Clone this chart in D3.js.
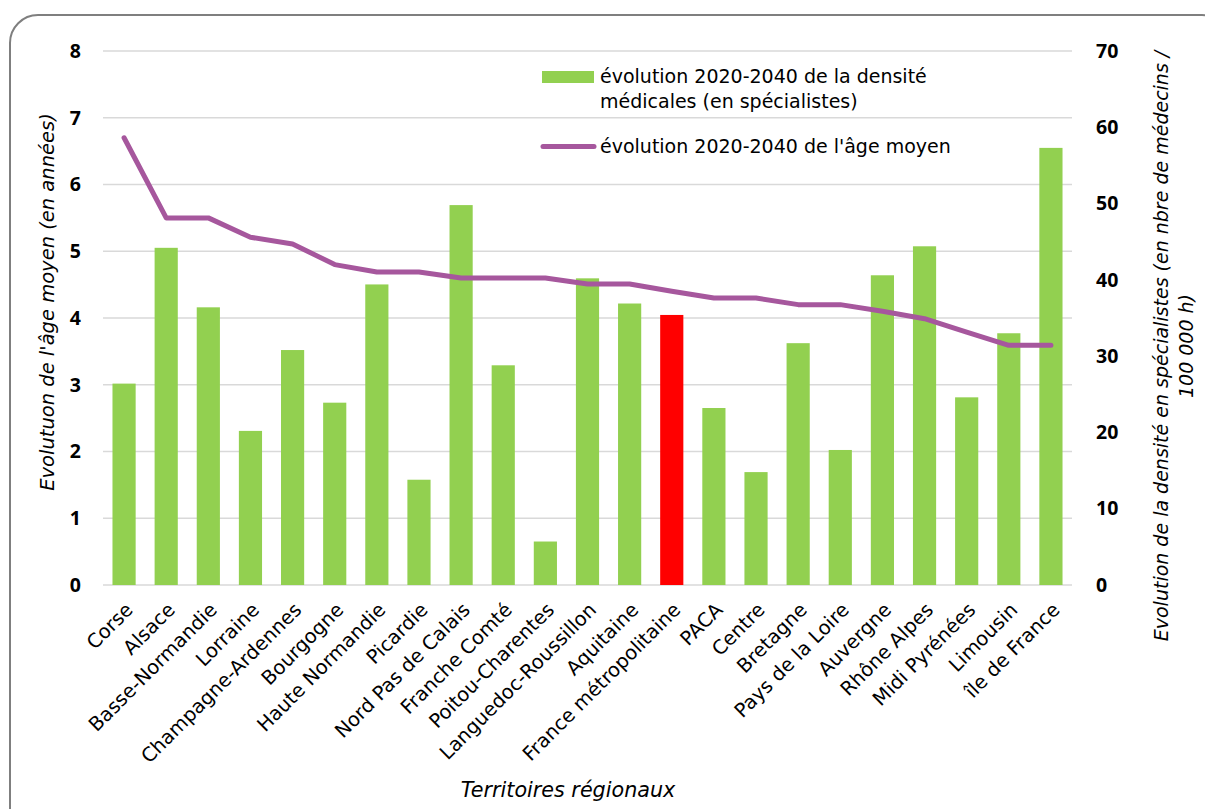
<!DOCTYPE html>
<html>
<head>
<meta charset="utf-8">
<script src="https://cdn.jsdelivr.net/npm/d3@7"></script>
<style>
  html, body { margin: 0; padding: 0; background: #fff; }
  svg { display: block; font-family: "DejaVu Sans", sans-serif; }
</style>
</head>
<body>
<svg id="chart" width="1205" height="809"></svg>
<script>
// Regions, in display order
const regions = [
  "Corse", "Alsace", "Basse-Normandie", "Lorraine", "Champagne-Ardennes",
  "Bourgogne", "Haute Normandie", "Picardie", "Nord Pas de Calais",
  "Franche Comté", "Poitou-Charentes", "Languedoc-Roussillon", "Aquitaine",
  "France métropolitaine", "PACA", "Centre", "Bretagne", "Pays de la Loire",
  "Auvergne", "Rhône Alpes", "Midi Pyrénées", "Limousin", "île de France"
];

// 2020-2040 change in specialist density (doctors / 100 000 inhabitants)
const densite = [
  26.4, 44.2, 36.4, 20.2, 30.8, 23.9, 39.4, 13.8, 49.8, 28.8, 5.7, 40.2,
  36.9, 35.4, 23.2, 14.8, 31.7, 17.7, 40.6, 44.4, 24.6, 33.0, 57.3
];

// 2020-2040 change in mean age (years)
const ageMoyen = [
  6.7, 5.5, 5.5, 5.21, 5.11, 4.8, 4.69, 4.69, 4.6, 4.6, 4.6, 4.51,
  4.51, 4.4, 4.3, 4.3, 4.2, 4.2, 4.1, 3.99, 3.79, 3.59, 3.59
];

const leftTicks = [0, 1, 2, 3, 4, 5, 6, 7, 8];
const rightTicks = [0, 10, 20, 30, 40, 50, 60, 70];
const highlighted = "France métropolitaine";

const svg = d3.select("#chart");

// Rounded frame around the chart
svg.append("rect")
  .attr("x", 10).attr("y", 15)
  .attr("width", 1220).attr("height", 830)
  .attr("rx", 28).attr("ry", 28)
  .attr("fill", "none")
  .attr("stroke", "#7f7f7f")
  .attr("stroke-width", 2);

const plot = { left: 103, right: 1072, top: 51, bottom: 585 };

const x = d3.scaleBand()
  .domain(regions)
  .range([plot.left, plot.right])
  .paddingInner(0.45)
  .paddingOuter(0.225);

const yAge = d3.scaleLinear().domain([0, 8]).range([plot.bottom, plot.top]);
const yDens = d3.scaleLinear().domain([0, 70]).range([plot.bottom, plot.top]);

// Horizontal gridlines
svg.append("g")
  .selectAll("line")
  .data(leftTicks)
  .join("line")
  .attr("x1", plot.left).attr("x2", plot.right)
  .attr("y1", d => yAge(d)).attr("y2", d => yAge(d))
  .attr("stroke", "#d9d9d9")
  .attr("stroke-width", 1.5);

// Left axis (mean age)
const leftAxis = svg.append("g")
  .attr("transform", `translate(${81},0)`)
  .call(d3.axisLeft(yAge).tickValues(leftTicks).tickSize(0).tickPadding(0).tickFormat(d3.format("d")));
leftAxis.select(".domain").remove();
leftAxis.selectAll("text")
  .attr("font-size", 19.5).attr("font-weight", "bold").attr("fill", "#000")
  .attr("font-family", "'Open Sans', sans-serif");

// Right axis (density)
const rightAxis = svg.append("g")
  .attr("transform", `translate(${1096},0)`)
  .call(d3.axisRight(yDens).tickValues(rightTicks).tickSize(0).tickPadding(0).tickFormat(d3.format("d")));
rightAxis.select(".domain").remove();
rightAxis.selectAll("text")
  .attr("font-size", 19.5).attr("font-weight", "bold").attr("fill", "#000")
  .attr("font-family", "'Open Sans', sans-serif");

// Density bars
svg.append("g")
  .selectAll("rect")
  .data(regions.map((r, i) => ({ r, v: densite[i] })))
  .join("rect")
  .attr("x", d => x(d.r))
  .attr("width", x.bandwidth())
  .attr("y", d => yDens(d.v))
  .attr("height", d => yDens(0) - yDens(d.v))
  .attr("fill", d => d.r === highlighted ? "#ff0000" : "#92d050");

// Mean age line
const line = d3.line()
  .x((d, i) => x(regions[i]) + x.bandwidth() / 2)
  .y(d => yAge(d));

svg.append("path")
  .datum(ageMoyen)
  .attr("d", line)
  .attr("fill", "none")
  .attr("stroke", "#a6579d")
  .attr("stroke-width", 5)
  .attr("stroke-linejoin", "round")
  .attr("stroke-linecap", "round");

// Category labels, slanted at 45°
svg.append("g")
  .selectAll("text")
  .data(regions)
  .join("text")
  .attr("transform", d => `translate(${x(d) + x.bandwidth() / 2 + 10},${611}) rotate(-45)`)
  .attr("text-anchor", "end")
  .attr("font-size", 19.5)
  .attr("fill", "#000")
  .text(d => d);

// Axis titles
svg.append("text")
  .attr("transform", `translate(48,${302}) rotate(-90)`)
  .attr("text-anchor", "middle")
  .attr("dominant-baseline", "middle")
  .attr("font-size", 19.5)
  .attr("font-style", "italic")
  .text("Evolutuon de l'âge moyen (en années)");

const rt = svg.append("text")
  .attr("transform", `translate(1168,${346}) rotate(-90)`)
  .attr("text-anchor", "middle")
  .attr("font-size", 19)
  .attr("font-style", "italic");
rt.append("tspan").attr("x", 0).attr("dy", 0).text("Evolution  de la densité en spécialistes (en nbre de médecins /");
rt.append("tspan").attr("x", 0).attr("dy", 25).text("100 000 h)");

svg.append("text")
  .attr("x", 568).attr("y", 797)
  .attr("text-anchor", "middle")
  .attr("font-size", 20.7)
  .attr("font-style", "italic")
  .text("Territoires régionaux");

// Legend
const legend = svg.append("g");
legend.append("rect")
  .attr("x", 542).attr("y", 71).attr("width", 52).attr("height", 12)
  .attr("fill", "#92d050");
legend.append("text")
  .attr("x", 600).attr("y", 83)
  .attr("font-size", 19)
  .text("évolution 2020-2040 de la densité");
legend.append("text")
  .attr("x", 600).attr("y", 108)
  .attr("font-size", 19)
  .text("médicales (en spécialistes)");
legend.append("line")
  .attr("x1", 543).attr("x2", 594).attr("y1", 146.5).attr("y2", 146.5)
  .attr("stroke", "#a6579d").attr("stroke-width", 5).attr("stroke-linecap", "round");
legend.append("text")
  .attr("x", 600).attr("y", 153)
  .attr("font-size", 19)
  .text("évolution 2020-2040 de l'âge moyen");
</script>
</body>
</html>
